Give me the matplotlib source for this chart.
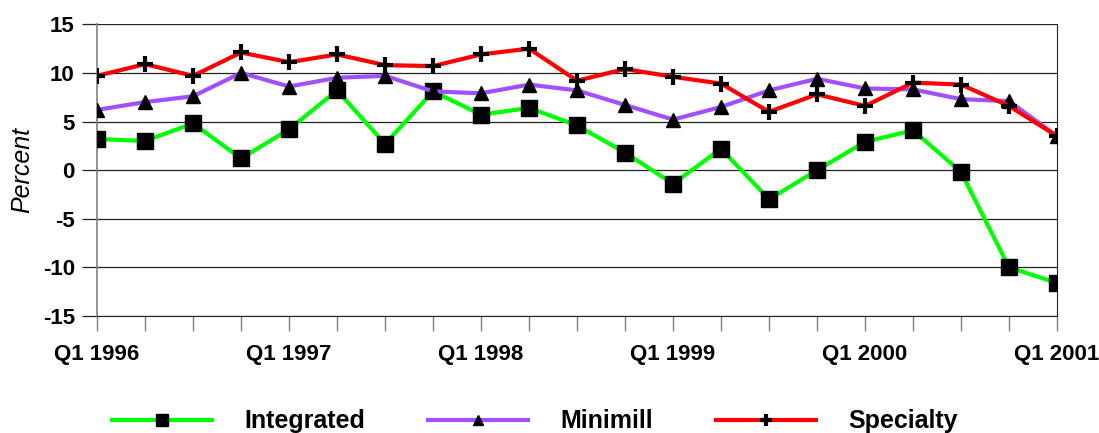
import numpy as np
import matplotlib.pyplot as plt

plt.rcParams['font.family'] = ['Liberation Sans', 'DejaVu Sans']
plt.rcParams['axes.unicode_minus'] = False

# quarterly values, Q1 1996 .. Q1 2001
quarters = ['Q1 1996', 'Q2 1996', 'Q3 1996', 'Q4 1996',
            'Q1 1997', 'Q2 1997', 'Q3 1997', 'Q4 1997',
            'Q1 1998', 'Q2 1998', 'Q3 1998', 'Q4 1998',
            'Q1 1999', 'Q2 1999', 'Q3 1999', 'Q4 1999',
            'Q1 2000', 'Q2 2000', 'Q3 2000', 'Q4 2000',
            'Q1 2001']
integrated = [3.2, 3.0, 4.8, 1.2, 4.2, 8.2, 2.7, 8.1, 5.7, 6.4, 4.6,
              1.8, -1.4, 2.2, -3.0, 0.0, 2.9, 4.1, -0.2, -10.0, -11.6]
minimill = [6.2, 7.0, 7.6, 10.0, 8.6, 9.5, 9.7, 8.1, 7.9, 8.8, 8.2,
            6.7, 5.2, 6.5, 8.2, 9.4, 8.4, 8.3, 7.3, 7.1, 3.5]
specialty = [9.7, 10.9, 9.7, 12.1, 11.1, 11.9, 10.8, 10.7, 11.9, 12.5, 9.2,
             10.4, 9.6, 8.9, 6.0, 7.8, 6.6, 9.0, 8.8, 6.6, 3.5]

x = np.arange(len(quarters))

fig = plt.figure(figsize=(10.99, 4.33), dpi=100)
ax = fig.add_axes([0.0883, 0.2702, 0.8735, 0.6737])

ax.plot(x, integrated, color='#00ff00', lw=3, marker='s', ms=11,
        mfc='black', mec='black', label='Integrated', zorder=3)
ax.plot(x, minimill, color='#a050ff', lw=3, marker='^', ms=10,
        mfc='black', mec='black', label='Minimill', zorder=3)
ax.plot(x, specialty, color='#ff0000', lw=3, marker='+', ms=12, mew=3,
        mfc='black', mec='black', label='Specialty', zorder=4)

ax.set_xlim(0, 20)
ax.set_ylim(-15, 15)
ax.set_yticks(np.arange(-15, 16, 5))
ax.set_xticks(x)
ax.set_xticklabels([q if i % 4 == 0 else '' for i, q in enumerate(quarters)],
                   fontweight='bold')
for t in ax.get_yticklabels():
    t.set_fontweight('bold')

ax.grid(axis='y', color='#222222', lw=0.9)
ax.set_axisbelow(True)
ax.spines['top'].set_visible(False)
ax.spines['left'].set_color('#808080')
ax.spines['left'].set_linewidth(1.2)
ax.spines['right'].set_color('#222222')
ax.spines['bottom'].set_color('#222222')
ax.tick_params(axis='x', direction='out', length=11, width=1, color='#808080',
               labelsize=16, pad=9)
ax.tick_params(axis='y', direction='out', length=11, width=0.9, color='#222222',
               labelsize=16, pad=5)
ax.set_ylabel('Percent', fontsize=18, style='italic', labelpad=6)

leg = fig.legend(loc='center', bbox_to_anchor=(0.4868, 0.027), ncol=3,
                 frameon=False, prop={'size': 18, 'weight': 'bold'},
                 handlelength=4.0, handletextpad=1.3, columnspacing=2.5)
for h, s in zip(leg.legend_handles, [9, 7, 8]):
    h.set_markersize(s)

fig.savefig('out.png', dpi=100)
